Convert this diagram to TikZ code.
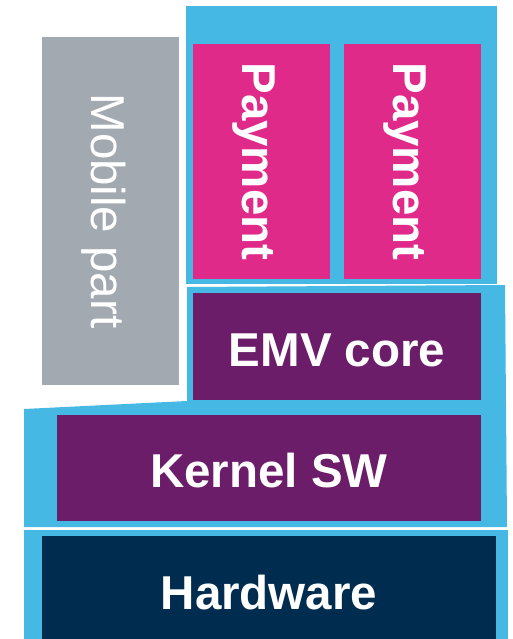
\documentclass[tikz,border=0pt]{standalone}
\usepackage{fontspec}
\setmainfont{Liberation Sans}
\definecolor{stblue}{HTML}{45B8E4}
\definecolor{stpink}{HTML}{E02A8A}
\definecolor{stpurple}{HTML}{6C1D69}
\definecolor{stnavy}{HTML}{002C50}
\definecolor{stgray}{HTML}{A2A9B0}

\begin{document}
\begin{tikzpicture}[x=1pt,y=-1pt,
 font=\fontsize{47.5}{50}\selectfont,
 blk/.style={inner sep=0pt,text=white,text height=39pt,text depth=0pt,%
   font=\fontsize{47.5}{50}\selectfont\bfseries},
 frame/.style={fill=stblue}]
\useasboundingbox (0,0) rectangle (512,639);
% blue frames behind the blocks
\fill[frame] (186,6) rectangle (497,284);
\fill[frame] (187,287) -- (505,285) -- (507,527) -- (24,527) -- (24,409)
  -- (187,401) -- cycle;
\fill[frame] (24,530) rectangle (508,645);
% blocks
\node[blk,fill=stgray,rotate=-90,minimum width=348,minimum height=137,%
  font=\fontsize{47.5}{50}\selectfont] (mobile) at (110.5,211) {Mobile part};
\node[blk,fill=stpink,rotate=-90,minimum width=235,minimum height=137]
  (payleft) at (261.5,161.5) {Payment};
\node[blk,fill=stpink,rotate=-90,minimum width=235,minimum height=137]
  (payright) at (412.5,161.5) {Payment};
\node[blk,fill=stpurple,minimum width=288,minimum height=107]
  (emv) at (337,346.5) {EMV core};
\node[blk,fill=stpurple,minimum width=424,minimum height=106]
  (kernel) at (269,468) {Kernel SW};
\node[blk,fill=stnavy,minimum width=454,minimum height=108]
  (hardware) at (269,590) {Hardware};
\end{tikzpicture}
\end{document}
